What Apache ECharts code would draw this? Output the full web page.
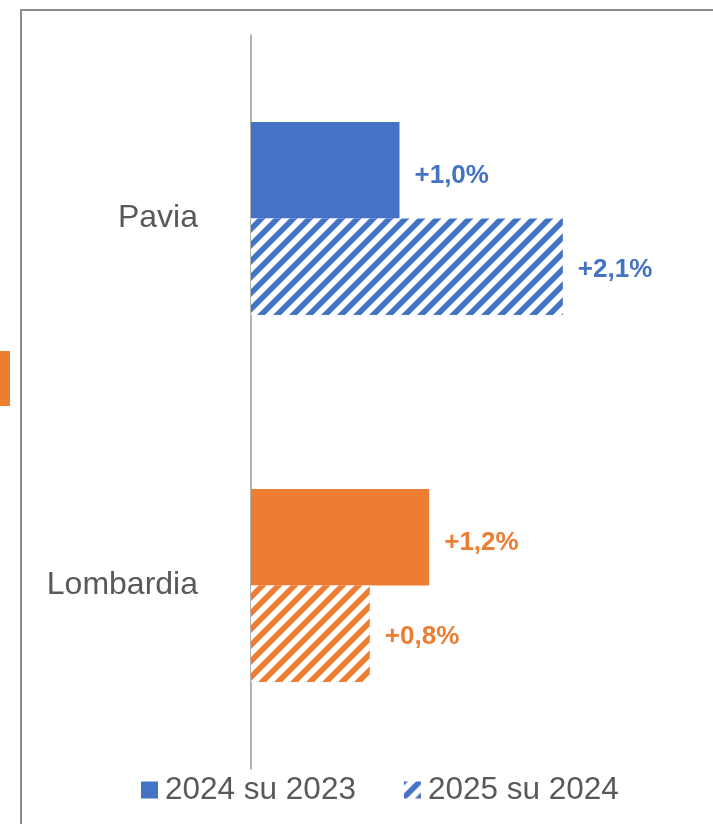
<!DOCTYPE html>
<html>
<head>
<meta charset="utf-8">
<script src="https://cdn.jsdelivr.net/npm/echarts@6/dist/echarts.min.js"></script>
<style>
  html, body { margin: 0; padding: 0; background: #fff; }
  #chart { width: 713px; height: 824px; }
</style>
</head>
<body>
<div id="chart"></div>
<script>
const categories = ['Pavia', 'Lombardia']
const seriesNames = ['2024 su 2023', '2025 su 2024']
const values2024 = [1.0, 1.2]
const values2025 = [2.1, 0.8]
const catColors = ['#4472C4', '#ED7D31']

const font = 'Liberation Sans, Arial, sans-serif'

// diagonal hatch tile, "/" stripes
function hatch(color) {
  const c = document.createElement('canvas')
  c.width = 16
  c.height = 16
  const ctx = c.getContext('2d')
  ctx.fillStyle = '#fff'
  ctx.fillRect(0, 0, 16, 16)
  ctx.strokeStyle = color
  ctx.lineWidth = 5.6
  for (const k of [-16, 0, 16]) {
    ctx.beginPath()
    ctx.moveTo(k - 4, 20)
    ctx.lineTo(k + 20, -4)
    ctx.stroke()
  }
  return { image: c, repeat: 'repeat' }
}

const fmt = v => '+' + v.toFixed(1).replace('.', ',') + '%'

function labelFor(i, dy) {
  return {
    show: true,
    position: 'right',
    distance: 15,
    offset: [0, dy],
    formatter: p => fmt(p.value),
    color: catColors[i],
    fontFamily: font,
    fontWeight: 'bold',
    fontSize: 26
  }
}

const chart = echarts.init(document.getElementById('chart'))
chart.setOption({
  animation: false,
  backgroundColor: '#fff',
  graphic: [
    {
      type: 'rect',
      shape: { x: 21, y: 10, width: 900, height: 900 },
      style: { fill: 'none', stroke: '#8c8c8c', lineWidth: 2 }
    },
    {
      type: 'rect',
      shape: { x: 0, y: 351, width: 10, height: 55 },
      style: { fill: '#ED7D31' }
    }
  ],
  grid: { left: 251, top: 35, width: 445.5, height: 734 },
  legend: {
    left: 136,
    top: 769,
    itemWidth: 17,
    itemHeight: 17,
    itemGap: 48,
    icon: 'rect',
    textStyle: { fontFamily: font, fontSize: 31.5, color: '#595959', padding: [0, 0, 0, 2] },
    data: seriesNames
  },
  xAxis: {
    type: 'value',
    min: 0,
    max: 3,
    show: false
  },
  yAxis: {
    type: 'category',
    inverse: true,
    data: categories,
    axisLine: { show: true, lineStyle: { color: '#999', width: 1.5 } },
    axisTick: { show: false },
    axisLabel: { margin: 53, fontFamily: font, fontSize: 32, color: '#595959' }
  },
  series: [
    {
      name: seriesNames[0],
      type: 'bar',
      barWidth: 96.5,
      barGap: '0%',
      itemStyle: { color: catColors[0] },
      data: values2024.map((v, i) => ({
        value: v,
        itemStyle: { color: catColors[i] },
        label: labelFor(i, 6)
      }))
    },
    {
      name: seriesNames[1],
      type: 'bar',
      barWidth: 96.5,
      barGap: '0%',
      itemStyle: { color: hatch(catColors[0]) },
      data: values2025.map((v, i) => ({
        value: v,
        itemStyle: { color: hatch(catColors[i]) },
        label: labelFor(i, 3)
      }))
    }
  ]
})
</script>
</body>
</html>
